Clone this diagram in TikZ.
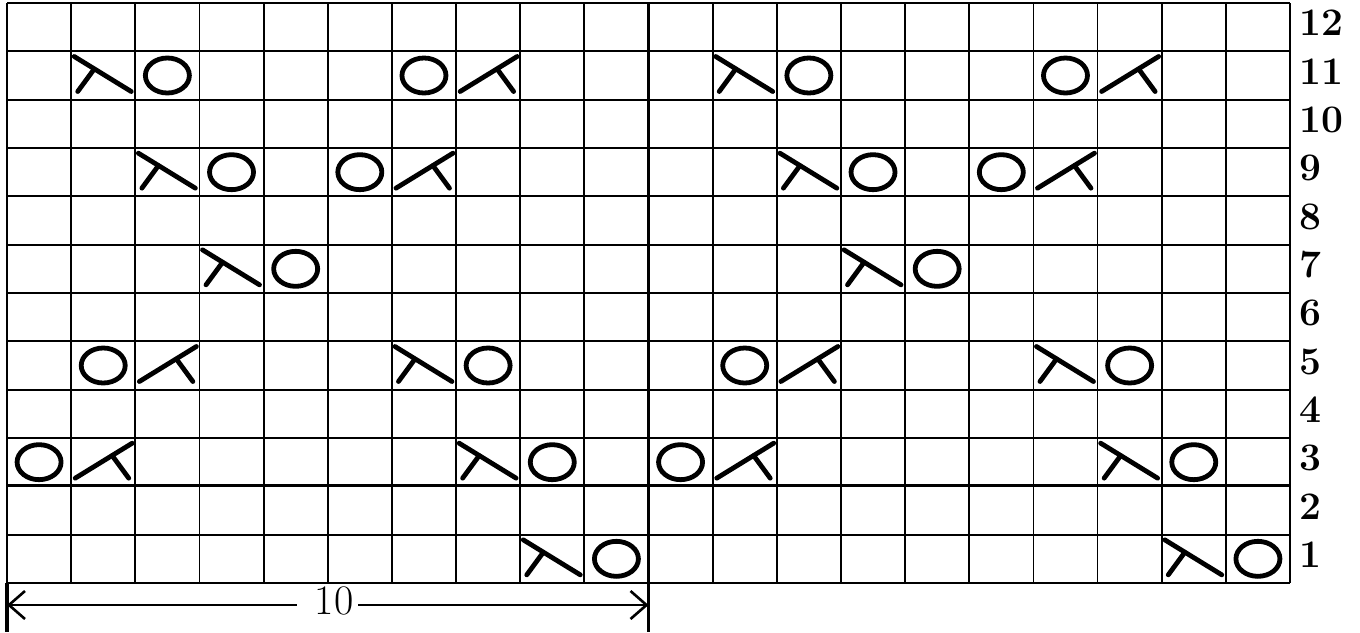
\documentclass[tikz,border=0pt]{standalone}
\usetikzlibrary{arrows.meta}
\begin{document}
\begin{tikzpicture}[x=0.5pt,y=-0.5pt,
  gridline/.style={line width=0.9pt, black},
  heavyline/.style={line width=1.6pt, black},
  stitch/.style={line width=2.4pt, line cap=round, black},
  rowlabel/.style={anchor=west, inner sep=0pt, font=\fontsize{19.5}{19.5}\selectfont\bfseries},
  dimlabel/.style={inner sep=0pt, font=\fontsize{21}{21}\selectfont},
  dimline/.style={line width=1.3pt, black},
  decA/.pic={\draw[stitch] (-29,-19) -- (28,16); \draw[stitch] (-9,-6.5) -- (-25.5,16);},
  decB/.pic={\draw[stitch] (-28,16) -- (29,-19); \draw[stitch] (9,-6.5) -- (25.5,16);},
  yarnover/.pic={\draw[stitch] (0,0) ellipse [x radius=22, y radius=17.5];}
]
\useasboundingbox (0,0) rectangle (1360,632);
% grid
\foreach \i in {0,...,20} \draw[gridline] ({7+\i*64.15},3) -- ({7+\i*64.15},583);
\foreach \j in {0,...,12} \draw[gridline] (7,{3+\j*48.333}) -- (1290,{3+\j*48.333});
% heavy lines
\draw[heavyline] (648.5,3) -- (648.5,632);
\draw[heavyline] (7,485.5) -- (1290,485.5);
\draw[heavyline] (7,583) -- (7,632);
% symbols
\foreach \c/\r in {2/11,12/11,3/9,13/9,4/7,14/7,7/5,17/5,8/3,18/3,9/1,19/1}
  \pic at ({7+(\c-0.5)*64.15},{583-(\r-0.5)*48.333}) {decA};
\foreach \c/\r in {8/11,18/11,7/9,17/9,3/5,13/5,2/3,12/3}
  \pic at ({7+(\c-0.5)*64.15},{583-(\r-0.5)*48.333}) {decB};
\foreach \c/\r in {3/11,13/11,7/11,17/11,4/9,14/9,6/9,16/9,5/7,15/7,2/5,12/5,8/5,18/5,1/3,11/3,9/3,19/3,10/1,20/1}
  \pic at ({7+(\c-0.5)*64.15},{583-(\r-0.5)*48.333}) {yarnover};
% row labels
\foreach \r in {1,...,12}
  \node[rowlabel] (lab\r) at (1299,{583-(\r-0.5)*48.333-4}) {\r};
% dimension
\coordinate (dimL) at (7,605);
\coordinate (dimR) at (648.5,605);
\coordinate (gapL) at (297,605);
\coordinate (gapR) at (358,605);
\node[dimlabel] (dimlab) at (334,601) {10};
\draw[dimline, {Straight Barb[length=8pt,width=14pt]}-] (dimL) -- (gapL);
\draw[dimline, -{Straight Barb[length=8pt,width=14pt]}] (gapR) -- (dimR);
\end{tikzpicture}
\end{document}
